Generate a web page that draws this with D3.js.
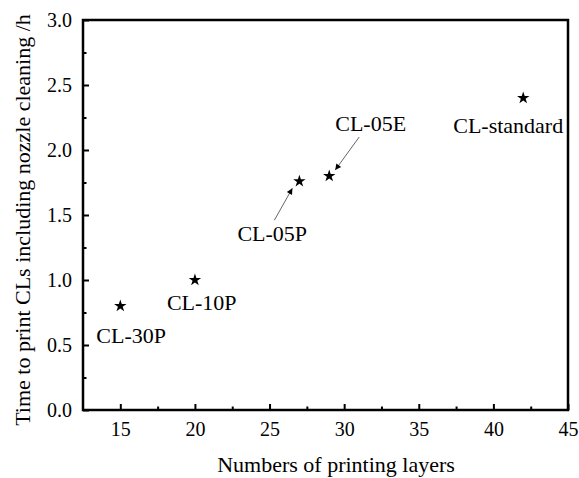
<!DOCTYPE html>
<html>
<head>
<meta charset="utf-8">
<script src="https://cdn.jsdelivr.net/npm/d3@7"></script>
<style>
  body { margin: 0; background: #fff; }
</style>
</head>
<body>
<div id="chart"></div>
<script>
// data
const sampleNames = ["CL-30P", "CL-10P", "CL-05P", "CL-05E", "CL-standard"];
const layerCounts = [15, 20, 27, 29, 42];
const printHours = [0.8, 1.0, 1.76, 1.8, 2.4];

const xTicks = [15, 20, 25, 30, 35, 40, 45];
const yTicks = [0.0, 0.5, 1.0, 1.5, 2.0, 2.5, 3.0];

const xTitle = "Numbers of printing layers";
const yTitle = "Time to print CLs including nozzle cleaning /h";

// label placement (pixel offsets from the point), arrows only where the original has them
const labelLayout = {
  "CL-30P":      { dx: -24, dy: 37 },
  "CL-10P":      { dx: -28, dy: 30 },
  "CL-05P":      { dx: -62, dy: 60, arrow: [[-25, 39], [-7, 7]] },
  "CL-05E":      { dx: 6,   dy: -45, arrow: [[30, -39], [6, -6]] },
  "CL-standard": { dx: -70, dy: 35 }
};

const FONT = "'Liberation Serif', 'Times New Roman', serif";

//******************************************************
//                  CHART SIZE
//******************************************************
const WIDTH = 579, HEIGHT = 478;
const LEFT = 83, RIGHT = 568, TOP = 20, BOTTOM = 410;

const svg = d3.select("#chart").append("svg")
  .attr("width", WIDTH)
  .attr("height", HEIGHT);

const x = d3.scaleLinear().domain([12.5, 45]).range([LEFT, RIGHT]);
const y = d3.scaleLinear().domain([0, 3]).range([BOTTOM, TOP]);

// minor ticks at the half steps
const xMinor = d3.range(17.5, 45, 5);
const yMinor = d3.range(0.25, 3, 0.5);

svg.append("g")
  .attr("transform", `translate(0,${BOTTOM})`)
  .call(d3.axisBottom(x).tickValues(xTicks).tickSize(-6).tickPadding(12).tickFormat(d3.format("d")));
svg.append("g")
  .attr("transform", `translate(0,${BOTTOM})`)
  .call(d3.axisBottom(x).tickValues(xMinor).tickSize(-3.5).tickFormat(""));

svg.append("g")
  .attr("transform", `translate(${LEFT},0)`)
  .call(d3.axisLeft(y).tickValues(yTicks).tickSize(-6).tickPadding(11).tickFormat(d3.format(".1f")));
svg.append("g")
  .attr("transform", `translate(${LEFT},0)`)
  .call(d3.axisLeft(y).tickValues(yMinor).tickSize(-3.5).tickFormat(""));

svg.selectAll(".domain").remove();
svg.selectAll(".tick line").attr("stroke", "#000").attr("stroke-width", 2);
svg.selectAll(".tick text")
  .attr("font-family", null)
  .style("font-family", FONT)
  .style("font-size", "20px")
  .attr("fill", "#000");

// frame
svg.append("rect")
  .attr("x", LEFT).attr("y", TOP)
  .attr("width", RIGHT - LEFT).attr("height", BOTTOM - TOP)
  .attr("fill", "none").attr("stroke", "#000").attr("stroke-width", 2.5);

// axis titles
svg.append("text")
  .attr("x", 336).attr("y", 472)
  .attr("text-anchor", "middle")
  .style("font-family", FONT)
  .style("font-size", "22px")
  .text(xTitle);

svg.append("text")
  .attr("transform", "translate(30,220) rotate(-90)")
  .attr("text-anchor", "middle")
  .style("font-family", FONT)
  .style("font-size", "22px")
  .text(yTitle);

// arrowhead
svg.append("defs").append("marker")
  .attr("id", "head")
  .attr("viewBox", "0 0 10 10")
  .attr("refX", 10).attr("refY", 5)
  .attr("markerWidth", 9).attr("markerHeight", 6)
  .attr("markerUnits", "userSpaceOnUse")
  .attr("orient", "auto")
  .append("path")
  .attr("d", "M0,0 L10,5 L0,10 Z")
  .attr("fill", "#000");

const points = sampleNames.map((name, i) => ({ name: name, layers: layerCounts[i], hours: printHours[i] }));

// star markers
svg.append("g").selectAll("path")
  .data(points)
  .join("path")
  .attr("d", d3.symbol().type(d3.symbolStar).size(48))
  .attr("transform", d => `translate(${x(d.layers)},${y(d.hours)})`)
  .attr("fill", "#000");

// labels
svg.append("g").selectAll("text")
  .data(points)
  .join("text")
  .attr("x", d => x(d.layers) + labelLayout[d.name].dx)
  .attr("y", d => y(d.hours) + labelLayout[d.name].dy)
  .style("font-family", FONT)
  .style("font-size", "22px")
  .text(d => d.name);

// arrows
svg.append("g").selectAll("line")
  .data(points.filter(d => labelLayout[d.name].arrow))
  .join("line")
  .attr("x1", d => x(d.layers) + labelLayout[d.name].arrow[0][0])
  .attr("y1", d => y(d.hours) + labelLayout[d.name].arrow[0][1])
  .attr("x2", d => x(d.layers) + labelLayout[d.name].arrow[1][0])
  .attr("y2", d => y(d.hours) + labelLayout[d.name].arrow[1][1])
  .attr("stroke", "#666")
  .attr("stroke-width", 1)
  .attr("marker-end", "url(#head)");
</script>
</body>
</html>
